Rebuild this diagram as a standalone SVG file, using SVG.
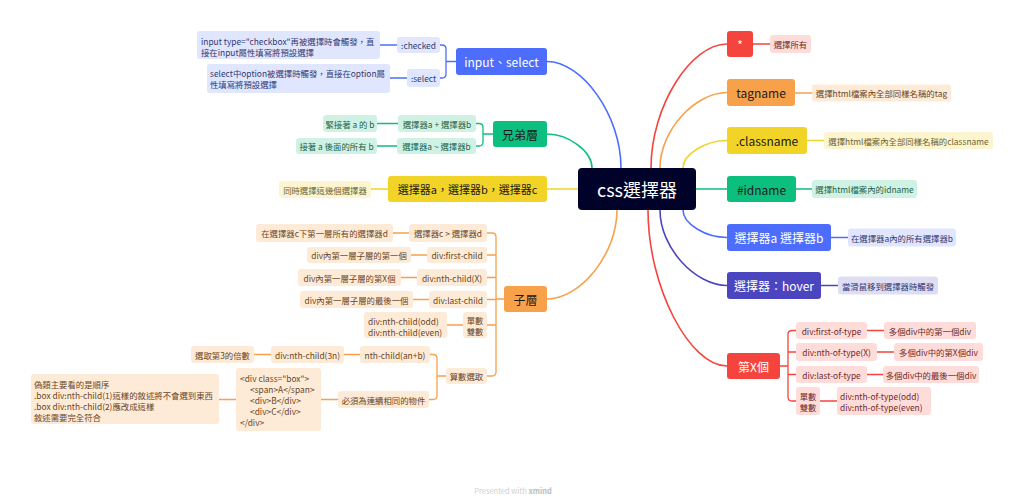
<svg xmlns="http://www.w3.org/2000/svg" width="1024" height="504" viewBox="0 0 1024 504">
<style>
text{font-family:"Noto Sans CJK TC","Noto Sans",sans-serif;}
.m{font-size:12px;text-anchor:middle;dominant-baseline:central}
.s{font-size:8.4px;text-anchor:middle;dominant-baseline:central}
.sl{font-size:8.4px;dominant-baseline:central}
.w{fill:#fff}.k{fill:#1a1a1a}
.c{fill:none;stroke-width:1.6;stroke-linecap:round}
.cs{fill:none;stroke-width:1.3;stroke-linecap:round}
.red{fill:#F5443D}.redl{fill:#FEDCDA}.redt{fill:#6E2A27}.sred{stroke:#F5443D}
.ora{fill:#F7A14B}.oral{fill:#FDEBD8}.orat{fill:#6B4523}.sora{stroke:#F7A14B}
.yel{fill:#F2D327}.yell{fill:#FDF5CF}.yelt{fill:#6E6330}.syel{stroke:#F2D327}
.gre{fill:#0DBF7E}.grel{fill:#CFF2E5}.gret{fill:#22624A}.sgre{stroke:#0DBF7E}
.blu{fill:#4C6DFD}.blul{fill:#E1E6FF}.blut{fill:#2E3A73}.sblu{stroke:#4C6DFD}
.ind{fill:#4B46BF}.indl{fill:#DFDDF3}.indt{fill:#34326A}.sind{stroke:#4B46BF}
</style>
<rect width="1024" height="504" fill="#fff"/>
<g id="connectors">
<path class="c sred" d="M651,168 C651,106 691,44 727,44"/>
<path class="c sora" d="M660,168 C660,130 695.5,92.5 727,92.5"/>
<path class="c syel" d="M683,168 C683,154 706,140.5 727,140.5"/>
<path class="c sgre" d="M696,189 H727"/>
<path class="c sblu" d="M683,210 C683,224 706,237.5 727,237.5"/>
<path class="c sind" d="M660,210 C660,248 695.5,285.5 727,285.5"/>
<path class="c sred" d="M648,210 C648,288 690,366 727,366"/>
<path class="c sblu" d="M621,168 C621,115 582,61.5 547,61.5"/>
<path class="c sgre" d="M592,168 C592,151 568,134 547,134"/>
<path class="c syel" d="M578,189 H547"/>
<path class="c sora" d="M617,210 C617,254.5 580,299 547,299"/>
<path class="cs sred" d="M753,44 H770"/>
<path class="cs sora" d="M795,93 H812"/>
<path class="cs syel" d="M807,140.5 H824"/>
<path class="cs sgre" d="M796,189 H812"/>
<path class="cs sblu" d="M831,237.5 H848"/>
<path class="cs sind" d="M821,285.5 H838"/>
<path class="cs sred" d="M780,366 H788 M796,330.5 H792 Q788,330.5 788,334.5 V397 Q788,401 792,401 H796 M788,352 H796 M788,374.5 H796"/>
<path class="cs sred" d="M867,330.5 H884 M877,352 H894 M867,374.5 H883 M820,401 H837"/>
<path class="cs sblu" d="M456,61.5 H446 M440,45 H442 Q446,45 446,49 V74 Q446,78 442,78 H440 M397,45 H380 M407,78 H390"/>
<path class="cs sgre" d="M493,134 H483 M476,123.5 H479 Q483,123.5 483,127.5 V142 Q483,146 479,146 H476 M398,123.5 H377 M397,146 H377"/>
<path class="cs syel" d="M388,189 H371"/>
<path class="cs sora" d="M504,299 H496 M487,233 H492 Q496,233 496,237 V372 Q496,376 492,376 H487 M496,255 H487 M496,277.5 H487 M496,299.5 H487 M496,325 H487"/>
<path class="cs sora" d="M409,233 H393 M427,255 H411 M417,277.5 H401 M429,299.5 H413 M463,325 H447"/>
<path class="cs sora" d="M446,376 H437 M430,354.5 H433 Q437,354.5 437,358.5 V395.5 Q437,399.5 433,399.5 H429"/>
<path class="cs sora" d="M360,354.5 H344 M271,354.5 H254 M338,399.5 H321 M236,399.5 H219"/>
</g>
<g id="center"><rect x="578" y="168" width="118" height="42" rx="4" fill="#000229"/><text class="m w" x="637" y="189" style="font-size:18px">css選擇器</text></g>
<g id="n-star"><rect class="red" x="727" y="31" width="26" height="26" rx="3"/><text class="m w" x="740" y="44">*</text>
<rect class="redl" x="770" y="35" width="41" height="18" rx="3"/><text class="s redt" x="790.5" y="44">選擇所有</text></g>
<g id="n-tag"><rect class="ora" x="727" y="79" width="68" height="27" rx="3"/><text class="m k" x="761" y="92.5">tagname</text>
<rect class="oral" x="812" y="84.5" width="139" height="17" rx="3"/><text class="s orat" x="881.5" y="93">選擇html檔案內全部同樣名稱的tag</text></g>
<g id="n-class"><rect class="yel" x="727" y="127" width="80" height="27" rx="3"/><text class="m k" x="767" y="140.5">.classname</text>
<rect class="yell" x="824" y="132" width="169" height="17" rx="3"/><text class="s yelt" x="908.5" y="140.5">選擇html檔案內全部同樣名稱的classname</text></g>
<g id="n-id"><rect class="gre" x="727" y="176" width="69" height="26" rx="3"/><text class="m k" x="761.5" y="189">#idname</text>
<rect class="grel" x="812" y="180" width="105" height="18" rx="3"/><text class="s gret" x="864.5" y="189">選擇html檔案內的idname</text></g>
<g id="n-ab"><rect class="blu" x="727" y="224" width="104" height="27" rx="3"/><text class="m w" x="779" y="237.5">選擇器a 選擇器b</text>
<rect class="blul" x="848" y="228.5" width="108" height="18" rx="3"/><text class="s blut" x="902" y="237.5">在選擇器a內的所有選擇器b</text></g>
<g id="n-hover"><rect class="ind" x="727" y="272" width="94" height="27" rx="3"/><text class="m w" x="774" y="285.5">選擇器：hover</text>
<rect class="indl" x="838" y="276.5" width="100" height="18" rx="3"/><text class="s indt" x="888" y="285.5">當滑鼠移到選擇器時觸發</text></g>
<g id="n-x"><rect class="red" x="727" y="353" width="53" height="26" rx="3"/><text class="m w" x="753.5" y="366">第X個</text></g>
<g id="n-x1"><rect class="redl" x="796" y="322" width="71" height="17" rx="3"/><text class="s redt" x="831.5" y="330.5">div:first-of-type</text>
<rect class="redl" x="884" y="322" width="92" height="17" rx="3"/><text class="s redt" x="930" y="330.5">多個div中的第一個div</text></g>
<g id="n-x2"><rect class="redl" x="796" y="343" width="81" height="18" rx="3"/><text class="s redt" x="836.5" y="352">div:nth-of-type(X)</text>
<rect class="redl" x="894" y="343" width="89" height="18" rx="3"/><text class="s redt" x="938.5" y="352">多個div中的第X個div</text></g>
<g id="n-x3"><rect class="redl" x="796" y="366" width="71" height="17" rx="3"/><text class="s redt" x="831.5" y="374.5">div:last-of-type</text>
<rect class="redl" x="883" y="366" width="96" height="17" rx="3"/><text class="s redt" x="931" y="374.5">多個div中的最後一個div</text></g>
<g id="n-x4"><rect class="redl" x="796" y="387" width="24" height="28" rx="3"/><text class="s redt" x="808" y="396">單數</text><text class="s redt" x="808" y="407">雙數</text>
<rect class="redl" x="837" y="387" width="94" height="28" rx="3"/><text class="sl redt" x="840" y="396">div:nth-of-type(odd)</text><text class="sl redt" x="840" y="407">div:nth-of-type(even)</text></g>
<g id="n-input"><rect class="blu" x="456" y="48" width="91" height="27" rx="3"/><text class="m w" x="501.5" y="61.5">input、select</text></g>
<g id="n-checked"><rect class="blul" x="397" y="37" width="43" height="16" rx="3"/><text class="s blut" x="418.5" y="45">:checked</text>
<rect class="blul" x="197" y="31" width="183" height="28" rx="3"/><text class="sl blut" x="201" y="40.5">input type="checkbox"再被選擇時會觸發，直</text><text class="sl blut" x="201" y="51.5">接在input屬性填寫將預設選擇</text></g>
<g id="n-select"><rect class="blul" x="407" y="69" width="33" height="18" rx="3"/><text class="s blut" x="423.5" y="78">:select</text>
<rect class="blul" x="207" y="64" width="183" height="29" rx="3"/><text class="sl blut" x="210" y="73">select中option被選擇時觸發，直接在option屬</text><text class="sl blut" x="210" y="84">性填寫將預設選擇</text></g>
<g id="n-sib"><rect class="gre" x="493" y="121" width="54" height="26" rx="3"/><text class="m k" x="520" y="134">兄弟層</text></g>
<g id="n-sib1"><rect class="grel" x="398" y="115" width="78" height="17" rx="3"/><text class="s gret" x="437" y="123.5">選擇器a + 選擇器b</text>
<rect class="grel" x="323" y="115" width="54" height="17" rx="3"/><text class="s gret" x="350" y="123.5">緊接著 a 的 b</text></g>
<g id="n-sib2"><rect class="grel" x="397" y="138" width="79" height="16" rx="3"/><text class="s gret" x="436.5" y="146">選擇器a ~ 選擇器b</text>
<rect class="grel" x="296" y="138" width="81" height="16" rx="3"/><text class="s gret" x="336.5" y="146">接著 a 後面的所有 b</text></g>
<g id="n-multi"><rect class="yel" x="388" y="176" width="159" height="26" rx="3"/><text class="m k" x="467.5" y="189" style="font-size:11px">選擇器a，選擇器b，選擇器c</text>
<rect class="yell" x="279" y="181" width="92" height="17" rx="3"/><text class="s yelt" x="325" y="189.5">同時選擇這幾個選擇器</text></g>
<g id="n-child"><rect class="ora" x="504" y="286" width="43" height="26" rx="3"/><text class="m k" x="525.5" y="299">子層</text></g>
<g id="n-c1"><rect class="oral" x="409" y="224" width="78" height="18" rx="3"/><text class="s orat" x="448" y="233">選擇器c &gt; 選擇器d</text>
<rect class="oral" x="256" y="224" width="137" height="18" rx="3"/><text class="s orat" x="324.5" y="233">在選擇器c下第一層所有的選擇器d</text></g>
<g id="n-c2"><rect class="oral" x="427" y="247" width="60" height="16" rx="3"/><text class="s orat" x="457" y="255">div:first-child</text>
<rect class="oral" x="307" y="247" width="104" height="16" rx="3"/><text class="s orat" x="359" y="255">div內第一層子層的第一個</text></g>
<g id="n-c3"><rect class="oral" x="417" y="269" width="70" height="17" rx="3"/><text class="s orat" x="452" y="277.5">div:nth-child(X)</text>
<rect class="oral" x="298" y="269" width="103" height="17" rx="3"/><text class="s orat" x="349.5" y="277.5">div內第一層子層的第X個</text></g>
<g id="n-c4"><rect class="oral" x="429" y="291" width="58" height="17" rx="3"/><text class="s orat" x="458" y="299.5">div:last-child</text>
<rect class="oral" x="300" y="291" width="113" height="17" rx="3"/><text class="s orat" x="356.5" y="299.5">div內第一層子層的最後一個</text></g>
<g id="n-c5"><rect class="oral" x="463" y="312" width="24" height="26" rx="3"/><text class="s orat" x="475" y="320">單數</text><text class="s orat" x="475" y="331">雙數</text>
<rect class="oral" x="364" y="312" width="83" height="26" rx="3"/><text class="sl orat" x="368" y="320.5">div:nth-child(odd)</text><text class="sl orat" x="368" y="331.5">div:nth-child(even)</text></g>
<g id="n-c6"><rect class="oral" x="446" y="368" width="41" height="16" rx="3"/><text class="s orat" x="466.5" y="376">算數選取</text></g>
<g id="n-g1"><rect class="oral" x="360" y="346" width="70" height="17" rx="3"/><text class="s orat" x="395" y="354.5">nth-child(an+b)</text>
<rect class="oral" x="271" y="346" width="73" height="17" rx="3"/><text class="s orat" x="307.5" y="354.5">div:nth-child(3n)</text>
<rect class="oral" x="191" y="346" width="63" height="17" rx="3"/><text class="s orat" x="222.5" y="354.5">選取第3的倍數</text></g>
<g id="n-g2"><rect class="oral" x="338" y="391" width="91" height="17" rx="3"/><text class="s orat" x="383.5" y="399.5">必須為連續相同的物件</text>
<rect class="oral" x="236" y="368" width="85" height="63" rx="3"/>
<text class="sl orat" x="240" y="378">&lt;div class="box"&gt;</text>
<text class="sl orat" x="250" y="389">&lt;span&gt;A&lt;/span&gt;</text>
<text class="sl orat" x="250" y="400">&lt;div&gt;B&lt;/div&gt;</text>
<text class="sl orat" x="250" y="411">&lt;div&gt;C&lt;/div&gt;</text>
<text class="sl orat" x="240" y="422">&lt;/div&gt;</text>
<rect class="oral" x="31" y="374" width="188" height="50" rx="3"/>
<text class="sl orat" x="34" y="384">偽類主要看的是順序</text>
<text class="sl orat" x="34" y="395">.box div:nth-child(1)這樣的敘述將不會選到東西</text>
<text class="sl orat" x="34" y="406">.box div:nth-child(2)應改成這樣</text>
<text class="sl orat" x="34" y="417">敘述需要完全符合</text></g>
<text x="513" y="490" style="font-size:7.5px;text-anchor:middle;dominant-baseline:central;fill:#cfcfcf">Presented with <tspan style="font-weight:bold;fill:#bdbdbd">xmind</tspan></text>
</svg>
